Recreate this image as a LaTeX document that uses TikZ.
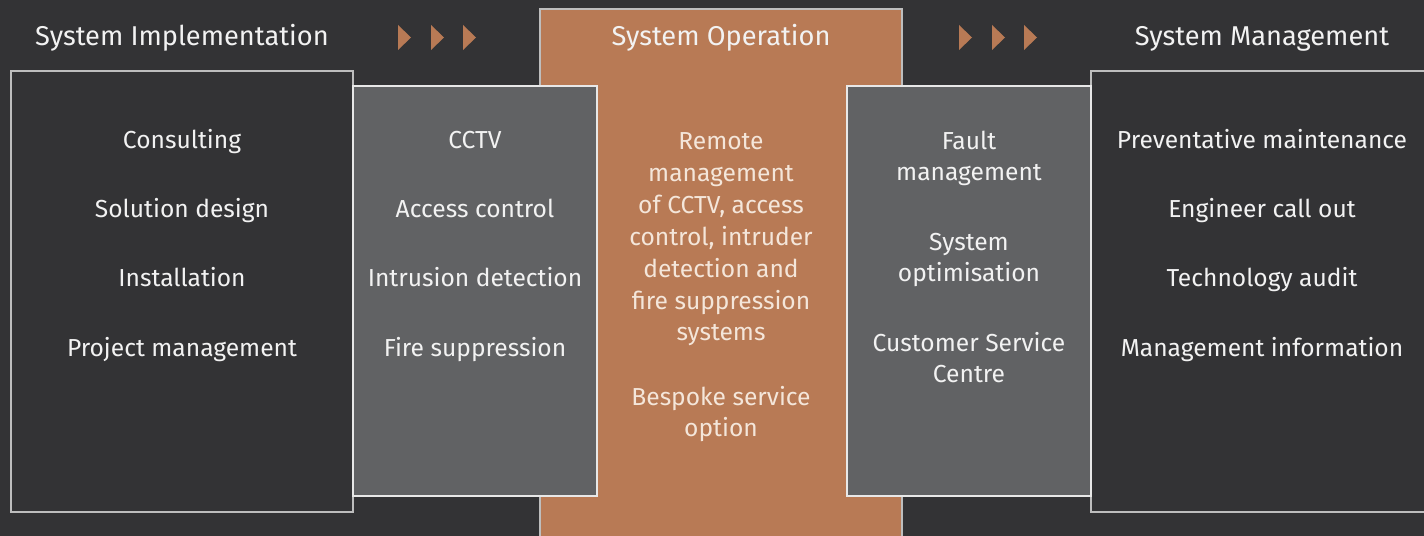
\documentclass[tikz,border=0pt]{standalone}
\usepackage{fontspec}
\setmainfont{Fira Sans}
\definecolor{bgDark}{RGB}{51,51,53}
\definecolor{boxGrey}{RGB}{97,98,100}
\definecolor{opOrange}{RGB}{184,122,85}
\definecolor{edgeGrey}{RGB}{190,190,190}
\definecolor{edgeLight}{RGB}{232,232,232}
\definecolor{textWhite}{RGB}{242,242,242}
\definecolor{textCream}{RGB}{244,230,218}

\begin{document}
\begin{tikzpicture}
[x=0.02cm,y=-0.02cm,
  panelDark/.style={fill=bgDark,draw=edgeGrey,line width=0.6pt},%
  panelGrey/.style={fill=boxGrey,draw=edgeLight,line width=0.6pt},%
  panelOrange/.style={fill=opOrange,draw=edgeGrey,line width=0.6pt},%
  headText/.style={anchor=base,text=textWhite,font=\fontsize{15.5}{18}\selectfont},%
  itemText/.style={anchor=base,text=textWhite,align=center,font=\fontsize{14}{18.14}\selectfont},%
  arrowTip/.style={fill=opOrange}]
%% background and panels
\useasboundingbox[fill=bgDark] (0,0) rectangle (1424,536);
\begin{scope}
\clip (0,0) rectangle (1424,536);
\draw[panelOrange] (540,9) rectangle (902,560);
\draw[panelDark] (11,71) rectangle (353,512);
\draw[panelDark] (1091,71) rectangle (1440,512);
\draw[panelGrey] (353,86) rectangle (597,496);
\draw[panelGrey] (847,86) rectangle (1091,496);
\end{scope}
%% arrow heads between the headings
\foreach \x in {398,431,463,959,992,1024}
{
  \fill[arrowTip] (\x,25) -- (\x+13,37.5) -- (\x,50) -- cycle;
}
%% headings
\foreach \nodename/\x/\txt in {implHead/182/System Implementation,
  operHead/721/System Operation, mgmtHead/1262/System Management}
{
  \node (\nodename) at (\x,46) [headText] {\txt};
}
%% items of the first, second and last panels
\foreach \nodename/\x/\y/\txt in {consult/182/149/Consulting,
  design/182/218/Solution design, install/182/287/Installation,
  project/182/357/Project management,
  cctv/475/149/CCTV, access/475/218/Access control,
  intrusion/475/287/Intrusion detection, fire/475/357/Fire suppression,
  maint/1262/149/Preventative maintenance, callout/1262/218/Engineer call out,
  audit/1262/287/Technology audit, info/1262/357/Management information}
{
  \node (\nodename) at (\x,\y) [itemText] {\txt};
}
%% items of the fourth panel (anchored at the last line)
\foreach \nodename/\y/\txt in {fault/181/{Fault\\management},
  optim/282/{System\\optimisation}, centre/383/{Customer Service\\Centre}}
{
  \node (\nodename) at (969,\y) [itemText] {\txt};
}
%% operation panel
\node (remote) at (721,341) [itemText,text=textCream]
  {Remote\\management\\of CCTV, access\\control, intruder\\detection and\\fire suppression\\systems};
\node (bespoke) at (721,437) [itemText,text=textCream] {Bespoke service\\option};
\end{tikzpicture}
\end{document}
